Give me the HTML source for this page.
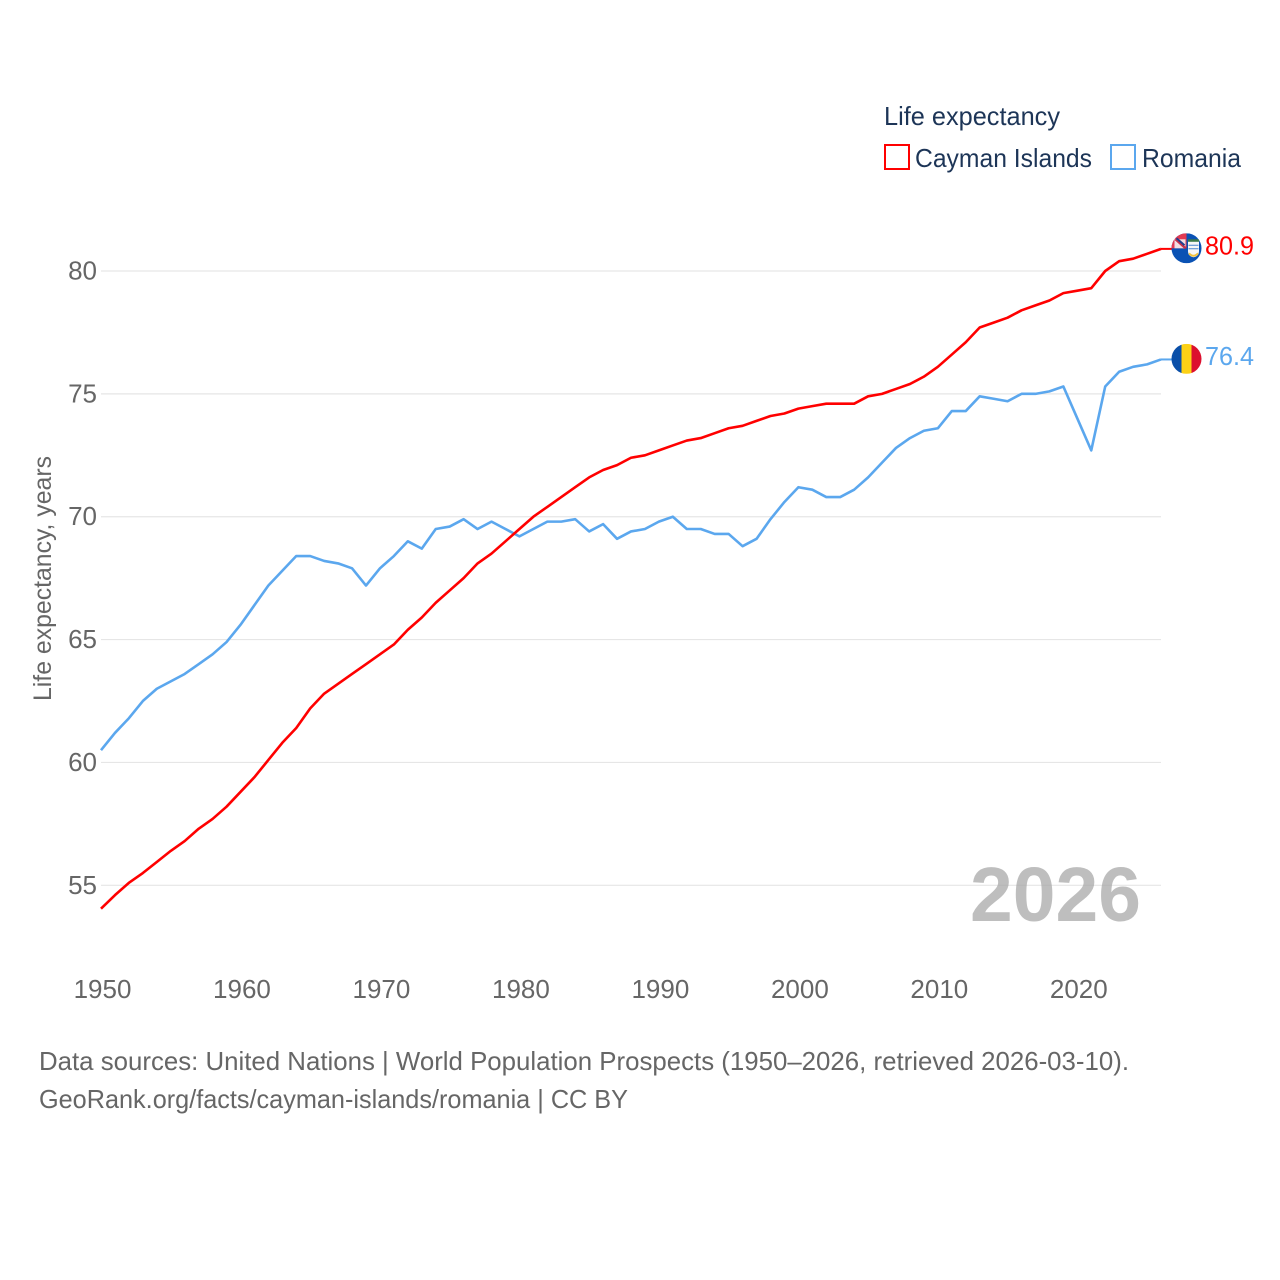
<!DOCTYPE html>
<html lang="en">
<head>
<meta charset="utf-8">
<title>Life expectancy: Cayman Islands and Romania</title>
<style>
  html, body { margin: 0; padding: 0; background: #fff; }
  svg { display: block; }
  text { font-family: "Liberation Sans", sans-serif; }
</style>
</head>
<body>
<svg id="chart" xmlns="http://www.w3.org/2000/svg" width="1280" height="1280" viewBox="0 0 1280 1280">
  <defs>
    <clipPath id="flag-clip-cayman"><circle id="clip-c" cx="0" cy="0" r="15"></circle></clipPath>
    <clipPath id="flag-clip-romania"><circle id="clip-r" cx="0" cy="0" r="15"></circle></clipPath>
  </defs>
  <rect width="1280" height="1280" fill="#fff"></rect>

  <g id="grid"></g>
  <g id="y-ticks"></g>
  <g id="x-ticks"></g>

  <text transform="translate(51 701) rotate(-90)" font-size="25" fill="#666" textLength="245" lengthAdjust="spacingAndGlyphs">Life expectancy, years</text>

  <text x="970" y="921" font-size="77" font-weight="700" fill="#a8a8a8" fill-opacity="0.75" textLength="171" lengthAdjust="spacingAndGlyphs">2026</text>

  <g id="series"></g>
  <g id="end-markers"></g>

  <g>
    <text x="884" y="125" font-size="26" fill="#1d3557" textLength="176" lengthAdjust="spacingAndGlyphs">Life expectancy</text>
    <g>
      <rect x="885" y="145" width="24" height="24" fill="#fff" stroke="#ff0000" stroke-width="2"></rect>
      <text x="915" y="167" font-size="26" fill="#1d3557" textLength="177" lengthAdjust="spacingAndGlyphs">Cayman Islands</text>
    </g>
    <g>
      <rect x="1111" y="145" width="24" height="24" fill="#fff" stroke="#5ba7ee" stroke-width="2"></rect>
      <text x="1142" y="167" font-size="26" fill="#1d3557" textLength="99" lengthAdjust="spacingAndGlyphs">Romania</text>
    </g>
  </g>

  <g>
    <text x="39" y="1070" font-size="26" fill="#666" textLength="1090" lengthAdjust="spacingAndGlyphs">Data sources: United Nations | World Population Prospects (1950–2026, retrieved 2026-03-10).</text>
    <text x="39" y="1108" font-size="26" fill="#666" textLength="589" lengthAdjust="spacingAndGlyphs">GeoRank.org/facts/cayman-islands/romania | CC BY</text>
  </g>
</svg>

<script>
const years = [1950,1951,1952,1953,1954,1955,1956,1957,1958,1959,1960,1961,1962,1963,1964,1965,1966,1967,1968,1969,1970,1971,1972,1973,1974,1975,1976,1977,1978,1979,1980,1981,1982,1983,1984,1985,1986,1987,1988,1989,1990,1991,1992,1993,1994,1995,1996,1997,1998,1999,2000,2001,2002,2003,2004,2005,2006,2007,2008,2009,2010,2011,2012,2013,2014,2015,2016,2017,2018,2019,2020,2021,2022,2023,2024,2025,2026];
const caymanIslands = [54.05,54.6,55.1,55.5,55.95,56.4,56.8,57.3,57.7,58.2,58.8,59.4,60.1,60.8,61.4,62.2,62.8,63.2,63.6,64.0,64.4,64.8,65.4,65.9,66.5,67.0,67.5,68.1,68.5,69.0,69.5,70.0,70.4,70.8,71.2,71.6,71.9,72.1,72.4,72.5,72.7,72.9,73.1,73.2,73.4,73.6,73.7,73.9,74.1,74.2,74.4,74.5,74.6,74.6,74.6,74.9,75.0,75.2,75.4,75.7,76.1,76.6,77.1,77.7,77.9,78.1,78.4,78.6,78.8,79.1,79.2,79.3,80.0,80.4,80.5,80.7,80.9];
const romania = [60.5,61.2,61.8,62.5,63.0,63.3,63.6,64.0,64.4,64.9,65.6,66.4,67.2,67.8,68.4,68.4,68.2,68.1,67.9,67.2,67.9,68.4,69.0,68.7,69.5,69.6,69.9,69.5,69.8,69.5,69.2,69.5,69.8,69.8,69.9,69.4,69.7,69.1,69.4,69.5,69.8,70.0,69.5,69.5,69.3,69.3,68.8,69.1,69.9,70.6,71.2,71.1,70.8,70.8,71.1,71.6,72.2,72.8,73.2,73.5,73.6,74.3,74.3,74.9,74.8,74.7,75.0,75.0,75.1,75.3,74.0,72.7,75.3,75.9,76.1,76.2,76.4];
const yTickValues = [55,60,65,70,75,80];
const xTickValues = [1950,1960,1970,1980,1990,2000,2010,2020];

const NS = 'http://www.w3.org/2000/svg';
function xScale(year) { return 101 + (year - 1950) * (1161 - 101) / 76; }
function yScale(value) { return 271 + (80 - value) * (885.3 - 271) / 25; }
function make(tag, parent) {
  const el = document.createElementNS(NS, tag);
  parent.appendChild(el);
  return el;
}
function set(el, attrs) {
  Object.keys(attrs).forEach(function (k) { el.setAttribute(k, attrs[k]); });
  return el;
}

const gridGroup = document.getElementById('grid');
const yTickGroup = document.getElementById('y-ticks');
yTickValues.forEach(function (v) {
  const line = make('line', gridGroup);
  
  
  set(line, { x1: 101, x2: 1161, y1: yScale(v), y2: yScale(v), stroke: '#e6e6e6', 'stroke-width': 1.2 });
  const label = make('text', yTickGroup);
  
  
  set(label, { x: 97, y: yScale(v) + 8.5, 'text-anchor': 'end', 'font-size': 26, fill: '#666' });
  label.textContent = String(v);
});

const xTickGroup = document.getElementById('x-ticks');
xTickValues.forEach(function (y) {
  const label = make('text', xTickGroup);
  
  
  set(label, { x: xScale(y) + 1.5, y: 998, 'text-anchor': 'middle', 'font-size': 26, fill: '#666' });
  label.textContent = String(y);
});

function pathFor(values) {
  return values.map(function (v, i) {
    return (i ? 'L' : 'M') + xScale(years[i]).toFixed(2) + ' ' + yScale(v).toFixed(2);
  }).join('');
}

const seriesGroup = document.getElementById('series');
const romaniaLine = make('path', seriesGroup);


set(romaniaLine, { d: pathFor(romania), fill: 'none', stroke: '#5ba7ee', 'stroke-width': 2.6, 'stroke-linejoin': 'round' });

const caymanLine = make('path', seriesGroup);


set(caymanLine, { d: pathFor(caymanIslands), fill: 'none', stroke: '#ff0000', 'stroke-width': 2.6, 'stroke-linejoin': 'round' });

const markers = document.getElementById('end-markers');
const flagX = 1186.5;

function drawConnector(value, color, name) {
  const c = make('line', markers);
  
  
  set(c, { x1: xScale(2026), x2: flagX - 14, y1: yScale(value), y2: yScale(value), stroke: color, 'stroke-width': 2 });
}
function drawValue(value, color, name) {
  const t = make('text', markers);
  
  
  set(t, { x: 1205, y: yScale(value) + 5.6, 'font-size': 26, fill: color, textLength: 49, lengthAdjust: 'spacingAndGlyphs' });
  t.textContent = value.toFixed(1);
}

const lastCayman = caymanIslands[caymanIslands.length - 1];
const lastRomania = romania[romania.length - 1];
drawConnector(lastCayman, '#ff0000', 'connector-cayman-islands');
drawConnector(lastRomania, '#5ba7ee', 'connector-romania');

/* Cayman Islands flag */
const cayFlag = make('g', markers);


set(cayFlag, { transform: 'translate(' + flagX + ' ' + (yScale(lastCayman) - 0.6) + ')' });
const cayInner = make('g', cayFlag);
set(cayInner, { 'clip-path': 'url(#flag-clip-cayman)' });
set(make('rect', cayInner), { x: -15, y: -15, width: 30, height: 30, fill: '#0a52b4' });
set(make('rect', cayInner), { x: -15, y: -15, width: 15, height: 15, fill: '#e23a52' });
set(make('rect', cayInner), { x: -12, y: -9, width: 11, height: 9, fill: '#f2dfe4' });
set(make('line', cayInner), { x1: -11, y1: -9, x2: -1, y2: 0, stroke: '#c8324c', 'stroke-width': 2.4 });
set(make('line', cayInner), { x1: -10, y1: -10, x2: -2, y2: -3, stroke: '#23408f', 'stroke-width': 2 });
set(make('path', cayInner), { d: 'M1.5 -8 H12.5 V3 Q12.5 8 7 9 Q1.5 8 1.5 3 Z', fill: '#f7f7f7' });
set(make('rect', cayInner), { x: 1.5, y: -9, width: 11, height: 2.5, fill: '#3c7a4a' });
set(make('path', cayInner), { d: 'M2 -3 H12 M2 0.5 H12', stroke: '#4a86d0', 'stroke-width': 1, fill: 'none' });
set(make('path', cayInner), { d: 'M2.5 5 Q7 10 11.5 5', stroke: '#f2c23c', 'stroke-width': 2, fill: 'none' });

/* Romania flag */
const roFlag = make('g', markers);


set(roFlag, { transform: 'translate(' + flagX + ' ' + (yScale(lastRomania) - 0.6) + ')' });
const roInner = make('g', roFlag);
set(roInner, { 'clip-path': 'url(#flag-clip-romania)' });
set(make('rect', roInner), { x: -15, y: -15, width: 10, height: 30, fill: '#0a4fa8' });
set(make('rect', roInner), { x: -5, y: -15, width: 10, height: 30, fill: '#fcd116' });
set(make('rect', roInner), { x: 5, y: -15, width: 10, height: 30, fill: '#dc0f2e' });

drawValue(lastCayman, '#ff0000', 'end-value-cayman-islands');
drawValue(lastRomania, '#5ba7ee', 'end-value-romania');
</script>
</body>
</html>
